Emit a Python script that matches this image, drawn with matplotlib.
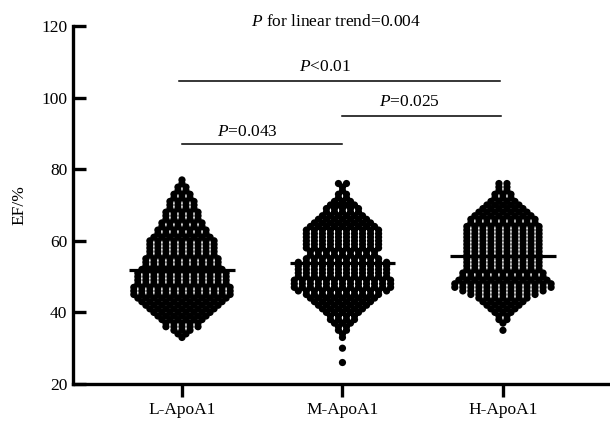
import numpy as np
import matplotlib
matplotlib.use("Agg")
import matplotlib.pyplot as plt

plt.rcParams['font.family'] = ['Liberation Serif', 'DejaVu Serif']
plt.rcParams['mathtext.fontset'] = 'custom'
plt.rcParams['mathtext.rm'] = 'Liberation Serif'
plt.rcParams['mathtext.it'] = 'Liberation Serif:italic'

groups = ["L-ApoA1", "M-ApoA1", "H-ApoA1"]

L_values = list(range(33, 78))
L_counts = [1, 2, 3, 5, 5, 6, 7, 8, 9, 10,
            11, 12, 13, 13, 13, 12, 12, 12, 12, 11,
            10, 10, 10, 9, 9, 9, 9, 9, 8, 7,
            7, 6, 6, 5, 5, 5, 4, 4, 4, 3,
            3, 2, 2, 1, 1]

M_values = [26, 30] + list(range(33, 77))
M_counts = [1, 1,
            1, 1, 2, 2, 3, 4, 4, 5, 6, 7,
            8, 9, 10, 12, 13, 13, 13, 12, 12, 12,
            12, 12, 10, 9, 9, 10, 10, 10, 10, 10,
            10, 9, 8, 7, 6, 5, 5, 4, 3, 2,
            2, 1, 1, 2]

H_values = [35] + list(range(37, 77))
H_counts = [1,
            1, 2, 2, 3, 4, 5, 6, 7, 9, 11,
            13, 13, 12, 11, 11, 10, 10, 10, 10, 10,
            10, 10, 10, 10, 10, 10, 10, 10, 9, 9,
            8, 7, 6, 5, 4, 3, 3, 2, 2, 2]

means = [51.8, 53.7, 55.8]

yticks = [20, 40, 60, 80, 100, 120]

comparisons = [  # (x start, x end, line y, label, label x, label y)
    (-0.02, 1.98, 104.6, "$P$<0.01", 0.89, 108.5),
    (1.0, 1.99, 94.9, "$P$=0.025", 1.42, 98.8),
    (0.0, 1.0, 87.0, "$P$=0.043", 0.41, 90.4),
]
trend_text = "$P$ for linear trend=0.004"

fig = plt.figure(figsize=(6.10, 4.21), dpi=100)
ax = fig.add_axes([73/610, 1 - 384/421, 1 - 73/610, (384 - 26)/421])

spacing = 0.05
data = [(L_values, L_counts), (M_values, M_counts), (H_values, H_counts)]
for gi, (vals, cnts) in enumerate(data):
    xs, ys = [], []
    for v, c in zip(vals, cnts):
        offs = (np.arange(c) - (c - 1) / 2.0) * spacing
        xs.extend(gi + offs)
        ys.extend([v] * c)
    ax.scatter(xs, ys, s=27, color='black', edgecolors='none', zorder=3)
    ax.plot([gi - 0.33, gi + 0.33], [means[gi], means[gi]], color='black',
            lw=2.3, solid_capstyle='butt', zorder=4)

for x0, x1, ly, lab, tx, ty in comparisons:
    ax.plot([x0, x1], [ly, ly], color='black', lw=1.1, clip_on=False)
    ax.text(tx, ty, lab, ha='center', va='center', fontsize=12.5)

ax.text(0.96, 121.2, trend_text, ha='center', va='center', fontsize=12.5,
        clip_on=False)

ax.set_xlim(-0.679, 2.667)
ax.set_ylim(20, 120)
ax.set_xticks([0, 1, 2])
ax.set_xticklabels(groups)
ax.set_yticks(yticks)
ax.set_ylabel("EF/%", fontsize=12.5, labelpad=10)

for s in ['top', 'right']:
    ax.spines[s].set_visible(False)
for s in ['left', 'bottom']:
    ax.spines[s].set_linewidth(2.4)

ax.tick_params(axis='y', direction='in', length=9, width=2.4, labelsize=12.5, pad=4)
ax.tick_params(axis='x', direction='out', length=9, width=2.4, labelsize=12.5, pad=4)

fig.savefig("out.png", dpi=100)
